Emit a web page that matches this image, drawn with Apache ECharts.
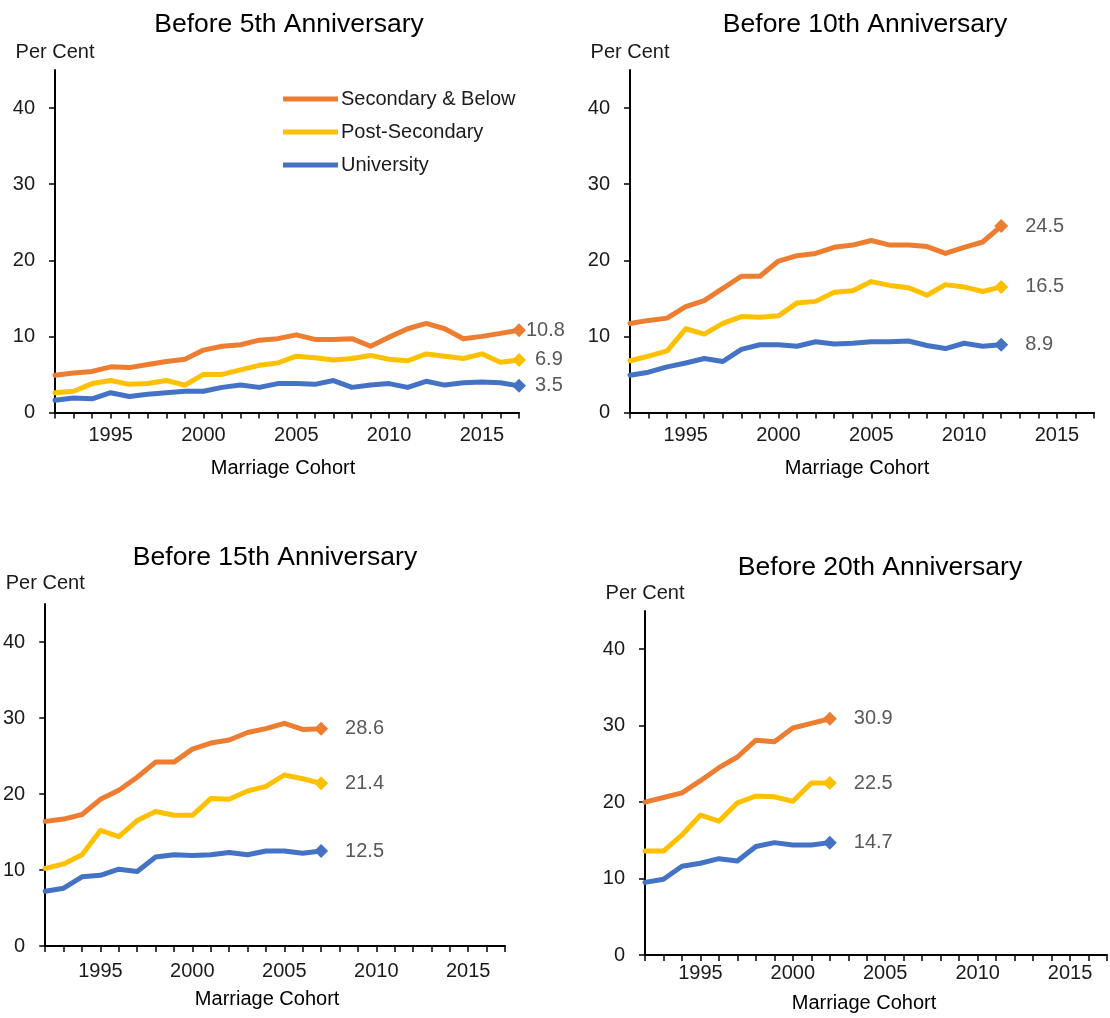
<!DOCTYPE html>
<html>
<head>
<meta charset="utf-8">
<title>Divorce rates by education and marriage cohort</title>
<script src="https://cdn.jsdelivr.net/npm/echarts@6/dist/echarts.min.js"></script>
<style>
  html, body { margin: 0; padding: 0; background: #ffffff; }
  #chart { width: 1110px; height: 1018px; }
</style>
</head>
<body>
<div id="chart"></div>
<script>
// Marriage cohorts on the x axis
const years = [1992, 1993, 1994, 1995, 1996, 1997, 1998, 1999, 2000, 2001, 2002, 2003, 2004,
               2005, 2006, 2007, 2008, 2009, 2010, 2011, 2012, 2013, 2014, 2015, 2016, 2017];

const seriesNames = ['Secondary & Below', 'Post-Secondary', 'University'];
const panelTitles = ['Before 5th Anniversary', 'Before 10th Anniversary',
                     'Before 15th Anniversary', 'Before 20th Anniversary'];
const yTicks = [0, 10, 20, 30, 40];

// Before 5th anniversary (cohorts 1992-2017), per cent
const sec5  = [4.9, 5.2, 5.4, 6.0, 5.9, 6.3, 6.7, 7.0, 8.2, 8.7, 8.9, 9.5, 9.7,
               10.2, 9.6, 9.6, 9.7, 8.7, 9.9, 11.0, 11.7, 11.0, 9.7, 10.0, 10.4, 10.8];
const post5 = [2.6, 2.8, 3.8, 4.2, 3.7, 3.8, 4.2, 3.6, 5.0, 5.0, 5.6, 6.2, 6.5,
               7.4, 7.2, 6.9, 7.1, 7.5, 7.0, 6.8, 7.7, 7.4, 7.1, 7.7, 6.6, 6.9];
const uni5  = [1.6, 1.9, 1.8, 2.6, 2.1, 2.4, 2.6, 2.8, 2.8, 3.3, 3.6, 3.3, 3.8,
               3.8, 3.7, 4.2, 3.3, 3.6, 3.8, 3.3, 4.1, 3.6, 3.9, 4.0, 3.9, 3.5];

// Before 10th anniversary (cohorts 1992-2012)
const sec10  = [11.7, 12.1, 12.4, 13.9, 14.7, 16.3, 17.9, 17.9, 19.9, 20.6, 20.9,
                21.7, 22.0, 22.6, 22.0, 22.0, 21.8, 20.9, 21.7, 22.4, 24.5];
const post10 = [6.8, 7.4, 8.1, 11.0, 10.3, 11.7, 12.6, 12.5, 12.7, 14.4, 14.6,
                15.8, 16.0, 17.2, 16.7, 16.4, 15.4, 16.8, 16.5, 15.9, 16.5];
const uni10  = [4.9, 5.3, 6.0, 6.5, 7.1, 6.7, 8.3, 8.9, 8.9, 8.7, 9.3,
                9.0, 9.1, 9.3, 9.3, 9.4, 8.8, 8.4, 9.1, 8.7, 8.9];

// Before 15th anniversary (cohorts 1992-2007)
const sec15  = [16.4, 16.7, 17.3, 19.3, 20.5, 22.2, 24.2, 24.2, 25.9, 26.7, 27.1,
                28.1, 28.6, 29.3, 28.5, 28.6];
const post15 = [10.2, 10.8, 12.0, 15.2, 14.4, 16.5, 17.7, 17.2, 17.2, 19.4, 19.3,
                20.4, 21.0, 22.5, 22.0, 21.4];
const uni15  = [7.2, 7.6, 9.1, 9.3, 10.1, 9.8, 11.7, 12.0, 11.9, 12.0, 12.3,
                12.0, 12.5, 12.5, 12.2, 12.5];

// Before 20th anniversary (cohorts 1992-2002)
const sec20  = [20.0, 20.6, 21.2, 22.8, 24.5, 25.9, 28.1, 27.9, 29.7, 30.3, 30.9];
const post20 = [13.6, 13.6, 15.7, 18.3, 17.5, 19.9, 20.8, 20.7, 20.1, 22.5, 22.5];
const uni20  = [9.5, 9.9, 11.6, 12.0, 12.6, 12.3, 14.2, 14.7, 14.4, 14.4, 14.7];

const colors = ['#ED7D31', '#FFC000', '#4472C4'];
const FONT = 'Liberation Sans, Arial, Helvetica, sans-serif';

// Layout of the four small multiples
const panels = [
  { grid: { left: 55,  top: 70,  width: 464, height: 342.5 }, title: [284, 6],   series: [sec5, post5, uni5],
    labelGap: [0, 9, 9],    xLabelMargin: 13, xNameGap: 46, xNamePad: 8,  yNameGap: 18 },
  { grid: { left: 630, top: 70,  width: 464, height: 342.5 }, title: [860, 6],   series: [sec10, post10, uni10],
    labelGap: [17, 17, 17], xLabelMargin: 13, xNameGap: 46, xNamePad: 10, yNameGap: 18 },
  { grid: { left: 41,  top: 604, width: 464, height: 342 },   title: [270, 539], series: [sec15, post15, uni15],
    labelGap: [17, 17, 17], xLabelMargin: 15, xNameGap: 43, xNamePad: 16, yNameGap: 21 },
  { grid: { left: 645, top: 611, width: 464, height: 344 },   title: [875, 549], series: [sec20, post20, uni20],
    labelGap: [17, 17, 17], xLabelMargin: 8,  xNameGap: 38, xNamePad: 24, yNameGap: 18 }
];

const axisLineStyle = { color: '#000000', width: 2 };

const option = {
  animation: false,
  textStyle: { fontFamily: FONT },
  title: panels.map((p, i) => ({
    text: panelTitles[i],
    left: p.title[0],
    top: p.title[1],
    textAlign: 'center',
    textStyle: { fontFamily: FONT, fontSize: 26.5, fontWeight: 'normal', color: '#000000' }
  })),
  legend: {
    data: seriesNames,
    orient: 'vertical',
    left: 283,
    top: 89,
    padding: 0,
    itemWidth: 55,
    itemHeight: 5,
    itemGap: 13,
    icon: 'rect',
    textStyle: { fontFamily: FONT, fontSize: 20, color: '#1a1a1a', padding: [0, 0, 0, -2] }
  },
  grid: panels.map(p => Object.assign({ containLabel: false }, p.grid)),
  xAxis: panels.map((p, i) => ({
    type: 'value',
    gridIndex: i,
    min: 1992,
    max: 2017,
    interval: 1,
    name: 'Marriage Cohort',
    nameLocation: 'middle',
    nameGap: p.xNameGap,
    nameTextStyle: { fontFamily: FONT, fontSize: 20, color: '#000000', padding: [0, p.xNamePad, 0, 0] },
    axisLine: { show: true, onZero: false, lineStyle: axisLineStyle },
    axisTick: { show: true, length: 6, lineStyle: { color: '#000000', width: 1.5 } },
    axisLabel: {
      margin: p.xLabelMargin,
      fontSize: 20,
      color: '#1a1a1a',
      fontFamily: FONT,
      formatter: v => (v % 5 === 0 ? String(v) : '')
    },
    splitLine: { show: false }
  })),
  yAxis: panels.map((p, i) => ({
    type: 'value',
    gridIndex: i,
    min: 0,
    max: 45,
    interval: 10,
    name: 'Per Cent',
    nameLocation: 'end',
    nameGap: p.yNameGap,
    nameTextStyle: { fontFamily: FONT, fontSize: 20, color: '#1a1a1a', align: 'center', verticalAlign: 'middle' },
    axisLine: { show: true, lineStyle: axisLineStyle },
    axisTick: { show: true, length: 6, customValues: yTicks, lineStyle: { color: '#000000', width: 1.5 } },
    axisLabel: {
      margin: 20,
      fontSize: 20,
      color: '#1a1a1a',
      fontFamily: FONT,
      customValues: yTicks
    },
    splitLine: { show: false }
  })),
  series: []
};

panels.forEach((p, pi) => {
  p.series.forEach((vals, si) => {
    const data = vals.map((v, k) => [years[k], v]);
    const lastIdx = data.length - 1;
    data[lastIdx] = {
      value: data[lastIdx],
      symbol: 'diamond',
      symbolSize: 14,
      label: {
        show: true,
        position: 'right',
        distance: p.labelGap[si],
        fontFamily: FONT,
        fontSize: 20,
        color: '#595959',
        formatter: params => params.value[1].toFixed(1)
      }
    };
    option.series.push({
      name: seriesNames[si],
      type: 'line',
      xAxisIndex: pi,
      yAxisIndex: pi,
      data: data,
      symbol: 'none',
      showSymbol: true,
      color: colors[si],
      lineStyle: { width: 5, color: colors[si], join: 'round', cap: 'round' },
      itemStyle: { color: colors[si] },
      emphasis: { disabled: true },
      z: 10 - si
    });
  });
});

const chart = echarts.init(document.getElementById('chart'), null, { renderer: 'canvas' });
chart.setOption(option);
</script>
</body>
</html>
